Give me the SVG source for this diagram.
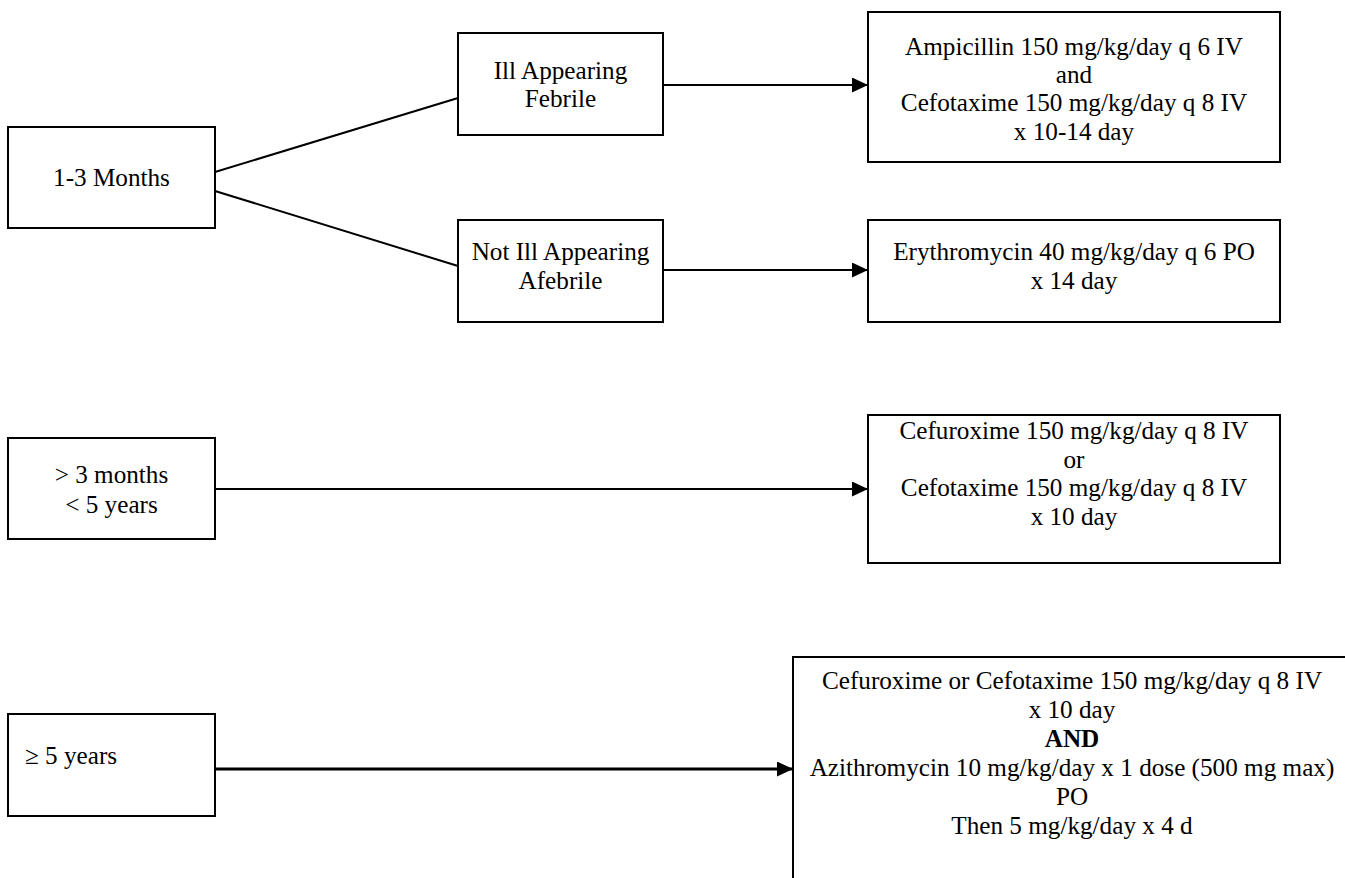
<svg xmlns="http://www.w3.org/2000/svg" width="1345" height="878" viewBox="0 0 1345 878">
<style>
.box{fill:#fff;stroke:#000;stroke-width:2}
.t{font-family:"Liberation Serif","Times New Roman",serif;font-size:25.2px;fill:#000;text-anchor:middle}
.tl{text-anchor:start}
.b{font-weight:bold}
.c{stroke:#000;stroke-width:2;fill:none}
.thick{stroke-width:3}
</style>
<defs>
<marker id="ah" markerUnits="userSpaceOnUse" markerWidth="16" markerHeight="15" refX="16" refY="7.5" orient="auto">
<path d="M0,0 L16,7.5 L0,15 Z" fill="#000"/>
</marker>
</defs>
<rect width="1345" height="878" fill="#fff"/>
<g id="connectors">
<line class="c" x1="215" y1="172" x2="458" y2="98"/>
<line class="c" x1="215" y1="191" x2="458" y2="266"/>
<line class="c" x1="663" y1="85" x2="868" y2="85" marker-end="url(#ah)"/>
<line class="c" x1="663" y1="270" x2="868" y2="270" marker-end="url(#ah)"/>
<line class="c" x1="215" y1="489" x2="868" y2="489" marker-end="url(#ah)"/>
<line class="c thick" x1="215" y1="769" x2="793" y2="769" marker-end="url(#ah)"/>
</g>
<g id="n-1-3-months">
<rect class="box" x="8" y="127" width="207" height="101"/>
<text class="t" x="111.5" y="186">1-3 Months</text>
</g>
<g id="n-ill">
<rect class="box" x="458" y="33" width="205" height="102"/>
<text class="t" x="560.5" y="79">Ill Appearing</text>
<text class="t" x="560.5" y="107">Febrile</text>
</g>
<g id="n-not-ill">
<rect class="box" x="458" y="220" width="205" height="102"/>
<text class="t" x="560.5" y="260">Not Ill Appearing</text>
<text class="t" x="560.5" y="289">Afebrile</text>
</g>
<g id="n-ampicillin">
<rect class="box" x="868" y="12" width="412" height="150"/>
<text class="t" x="1074" y="55">Ampicillin 150 mg/kg/day q 6 IV</text>
<text class="t" x="1074" y="83">and</text>
<text class="t" x="1074" y="111">Cefotaxime 150 mg/kg/day q 8 IV</text>
<text class="t" x="1074" y="140">x 10-14 day</text>
</g>
<g id="n-erythromycin">
<rect class="box" x="868" y="220" width="412" height="102"/>
<text class="t" x="1074" y="260">Erythromycin 40 mg/kg/day q 6 PO</text>
<text class="t" x="1074" y="289">x 14 day</text>
</g>
<g id="n-3m-5y">
<rect class="box" x="8" y="438" width="207" height="101"/>
<text class="t" x="111.5" y="483">&gt; 3 months</text>
<text class="t" x="111.5" y="513">&lt; 5 years</text>
</g>
<g id="n-cefuroxime">
<rect class="box" x="868" y="415" width="412" height="148"/>
<text class="t" x="1074" y="439">Cefuroxime 150 mg/kg/day q 8 IV</text>
<text class="t" x="1074" y="467.5">or</text>
<text class="t" x="1074" y="496">Cefotaxime 150 mg/kg/day q 8 IV</text>
<text class="t" x="1074" y="524.5">x 10 day</text>
</g>
<g id="n-5y">
<rect class="box" x="8" y="714" width="207" height="102"/>
<text class="t tl" x="25" y="764">≥ 5 years</text>
</g>
<g id="n-azithro">
<rect class="box" x="793" y="657" width="600" height="300"/>
<text class="t" x="1072" y="689">Cefuroxime or Cefotaxime 150 mg/kg/day q 8 IV</text>
<text class="t" x="1072" y="718">x 10 day</text>
<text class="t b" x="1072" y="747">AND</text>
<text class="t" x="1072" y="776">Azithromycin 10 mg/kg/day x 1 dose (500 mg max)</text>
<text class="t" x="1072" y="805">PO</text>
<text class="t" x="1072" y="834">Then 5 mg/kg/day x 4 d</text>
</g>
</svg>
